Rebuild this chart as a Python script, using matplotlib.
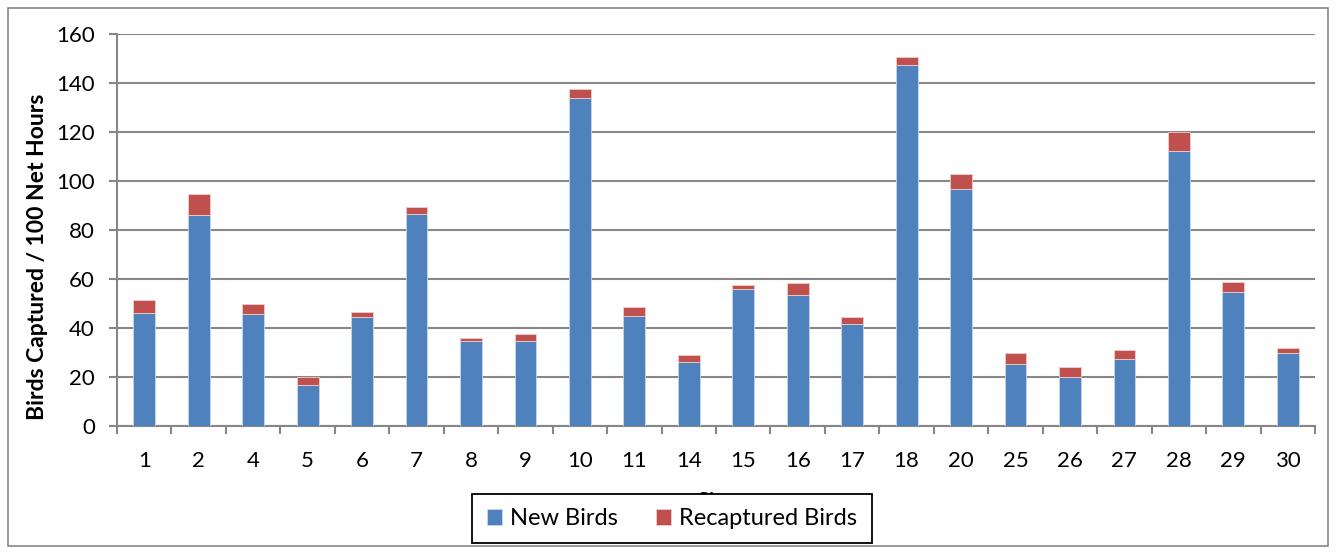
import numpy as np
import matplotlib.pyplot as plt
from matplotlib.patches import Rectangle

# Capture rates per site
sites = ["1", "2", "4", "5", "6", "7", "8", "9", "10", "11", "14",
         "15", "16", "17", "18", "20", "25", "26", "27", "28", "29", "30"]
new_birds = [46.0, 86.0, 45.7, 16.6, 44.4, 86.4, 34.6, 34.6, 134.0, 44.8, 26.0,
             55.8, 53.5, 41.8, 147.2, 96.7, 25.4, 20.0, 27.2, 112.2, 54.8, 29.8]
recaptured = [5.4, 8.7, 4.0, 3.5, 2.1, 3.1, 1.2, 3.0, 3.7, 3.8, 3.0,
              1.6, 5.0, 2.7, 3.4, 6.2, 4.3, 4.0, 3.8, 7.8, 3.8, 2.0]

plt.rcParams['font.family'] = ['Lato', 'DejaVu Sans']
blue = '#4F81BD'
red = '#C0504D'
grey = '#878787'

fig = plt.figure(figsize=(13.36, 5.54), dpi=100)
ax = fig.add_axes([0.0876, 0.231, 0.8967, 0.7076])

x = np.arange(len(sites))
ax.bar(x, new_birds, width=0.4, color=blue, edgecolor='#c9d7ea', linewidth=0.6,
       label='New Birds', zorder=3)
ax.bar(x, recaptured, width=0.4, bottom=new_birds, color=red, edgecolor='#f0cfce',
       linewidth=0.6, label='Recaptured Birds', zorder=3)

ax.set_xlim(-0.5, len(sites) - 0.5)
ax.set_ylim(0, 160)
ax.set_yticks(np.arange(0, 161, 20))
ax.yaxis.grid(True, color=grey, linewidth=1.5, zorder=0)

# ticks at category boundaries, labels at centres
ax.set_xticks(np.arange(-0.5, len(sites), 1))
ax.set_xticklabels([])
ax.set_xticks(x, minor=True)
ax.set_xticklabels(sites, minor=True, fontsize=16)
ax.tick_params(axis='x', which='major', length=6, width=1.5, color=grey, direction='out')
ax.tick_params(axis='x', which='minor', length=0, pad=18)
ax.tick_params(axis='y', length=6, width=1.5, color=grey, labelsize=16, pad=10)

for s in ['top', 'right']:
    ax.spines[s].set_visible(False)
for s in ['left', 'bottom']:
    ax.spines[s].set_color(grey)
    ax.spines[s].set_linewidth(1.5)

ax.set_ylabel('Birds Captured / 100 Net Hours', fontsize=16.5, fontweight='bold')
ax.yaxis.label.set_va('center')
ax.yaxis.set_label_coords(-0.066, 0.432)
# axis title sits mostly behind the legend box
ax.set_xlabel('Site', fontsize=16.5, fontweight='bold')
ax.xaxis.label.set_va('top')
ax.xaxis.set_label_coords(0.5, -0.168)

leg = fig.legend(loc='center', bbox_to_anchor=(0.503, 0.064), ncol=2, fontsize=17,
                 frameon=True, fancybox=False, edgecolor='black', framealpha=1,
                 handlelength=0.65, handleheight=0.65, handletextpad=0.35,
                 columnspacing=1.6, borderpad=0.6, borderaxespad=0)
leg.get_frame().set_linewidth(1.3)
leg.set_zorder(10)

# outer chart border
fig.patches.append(Rectangle((0.006, 0.014), 0.988, 0.972, transform=fig.transFigure,
                             fill=False, edgecolor='#868686', linewidth=1.2))

plt.savefig('out.png', dpi=100)
